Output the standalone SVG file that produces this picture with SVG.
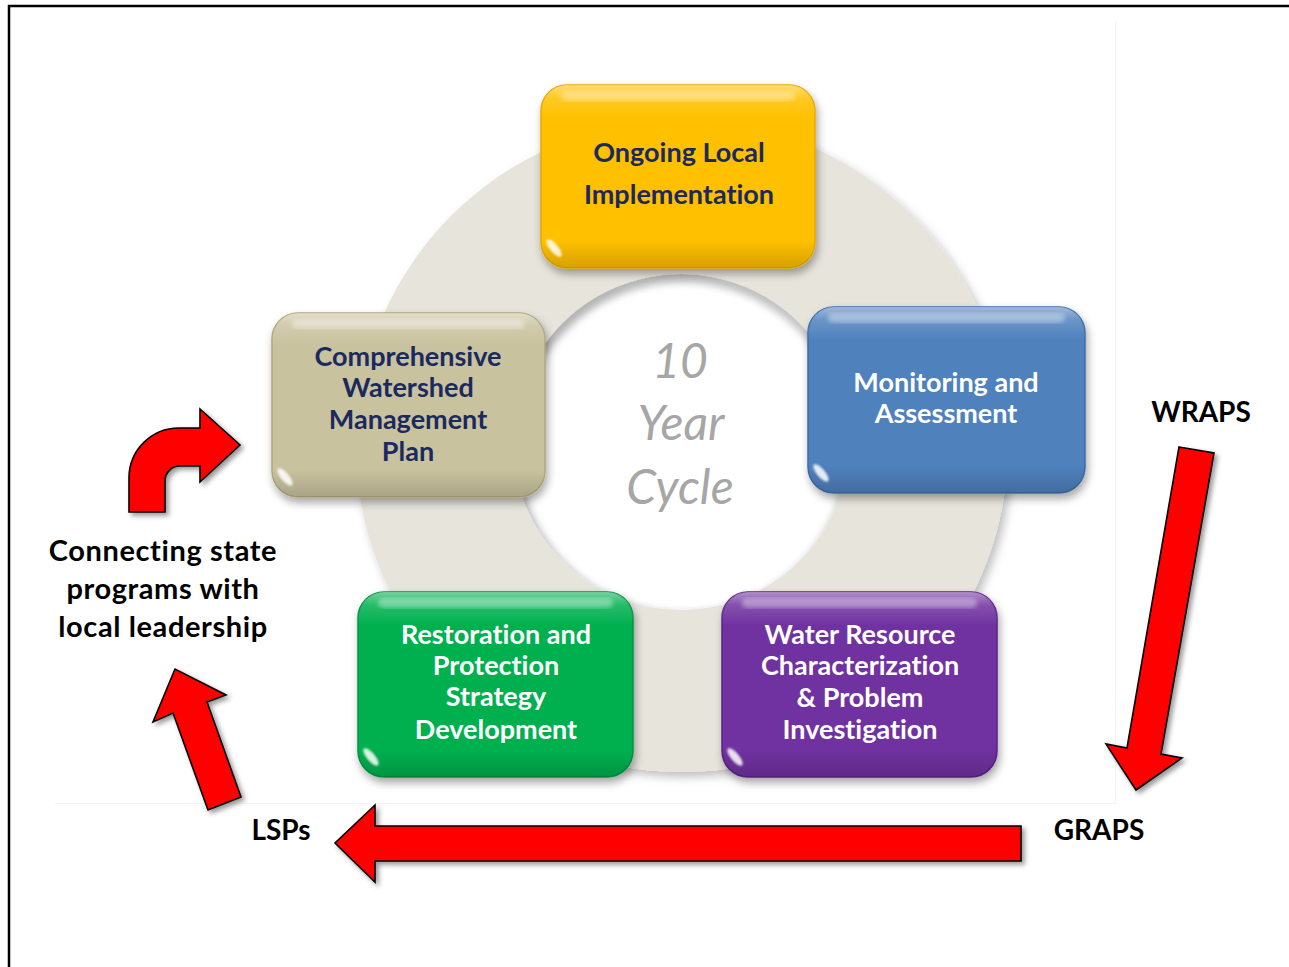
<svg xmlns="http://www.w3.org/2000/svg" width="1289" height="967" viewBox="0 0 1289 967">
  <defs>
    <style>
      text{font-variant-ligatures:none;font-feature-settings:"liga" 0,"clig" 0}
      .box-text{font-family:Lato,'Liberation Sans',sans-serif;font-weight:700;font-size:27px;text-anchor:middle}
      .navy{fill:#1B2A5E}
      .light{fill:#ffffff}
      .label{font-family:Lato,'Liberation Sans',sans-serif;font-weight:700;font-size:28px;fill:#000;text-anchor:middle}
      .label-wide{font-size:29px;letter-spacing:.6px}
      .cycle{font-family:Lato,'Liberation Sans',sans-serif;font-style:italic;font-size:48px;fill:#A6A6A6;text-anchor:middle}
      .arrow{fill:#FF0000;stroke:#000;stroke-width:1.6;stroke-linejoin:miter;filter:url(#arrowShadow)}
      .gloss{fill:url(#gloss)}
      .top-shine{fill:#fff;opacity:.35;filter:url(#soft2)}
      .corner-shine{fill:#fff;opacity:.85;filter:url(#soft1)}
    </style>
    <linearGradient id="gloss" x1="0" y1="0" x2="0" y2="1">
      <stop offset="0" stop-color="#fff" stop-opacity=".45"/>
      <stop offset=".07" stop-color="#fff" stop-opacity=".15"/>
      <stop offset=".18" stop-color="#fff" stop-opacity="0"/>
      <stop offset=".85" stop-color="#000" stop-opacity="0"/>
      <stop offset="1" stop-color="#000" stop-opacity=".16"/>
    </linearGradient>
    <filter id="boxShadow" x="-10%" y="-10%" width="125%" height="130%">
      <feDropShadow dx="2" dy="5" stdDeviation="4" flood-color="#000" flood-opacity=".35"/>
    </filter>
    <filter id="arrowShadow" x="-20%" y="-20%" width="150%" height="150%">
      <feDropShadow dx="3" dy="3" stdDeviation="2.5" flood-color="#000" flood-opacity=".4"/>
    </filter>
    <filter id="ringShadow" x="-10%" y="-10%" width="125%" height="125%">
      <feDropShadow dx="4" dy="5" stdDeviation="5" flood-color="#000" flood-opacity=".25"/>
    </filter>
    <filter id="soft1"><feGaussianBlur stdDeviation="1"/></filter>
    <filter id="soft2"><feGaussianBlur stdDeviation="2"/></filter>
    <filter id="soft4"><feGaussianBlur stdDeviation="4"/></filter>
    <clipPath id="hole"><circle cx="681" cy="442" r="168"/></clipPath>
  </defs>

  <!-- page -->
  <rect width="1289" height="967" fill="#fff"/>
  <path d="M9 967 V6 H1289" fill="none" stroke="#000" stroke-width="2.5"/>
  <!-- edge of the embedded figure area -->
  <path d="M55 803.5 H1115.5 V20" fill="none" stroke="#f4f4f4" stroke-width="1"/>

  <!-- cycle ring -->
  <g id="cycle-ring">
    <path d="M682 120 A326 326 0 1 1 681.9 120 Z M681 274 A168 168 0 1 0 681.1 274 Z" fill="#E6E4DB" fill-rule="evenodd" filter="url(#ringShadow)"/>
    <g clip-path="url(#hole)">
      <circle cx="681" cy="448" r="170" fill="none" stroke="#8a8a8a" stroke-width="6" opacity=".55" filter="url(#soft4)"/>
    </g>
    <text class="cycle" x="680" y="378">10</text>
    <text class="cycle" x="681" y="440">Year</text>
    <text class="cycle" x="680" y="504">Cycle</text>
  </g>

  <!-- nodes -->
  <g id="node-implementation">
    <rect x="541" y="85" width="274" height="183" rx="26" fill="#FFC000" stroke="#E3AA00" stroke-width="1.5" filter="url(#boxShadow)"/>
    <rect class="gloss" x="541" y="85" width="274" height="183" rx="26"/>
    <rect class="top-shine" x="561" y="91" width="234" height="10" rx="5"/>
    <ellipse class="corner-shine" cx="554" cy="248" rx="4" ry="11" transform="rotate(-40 554 248)"/>
    <text class="box-text navy" x="679" y="162">Ongoing Local</text>
    <text class="box-text navy" x="679" y="204">Implementation</text>
  </g>

  <g id="node-plan">
    <rect x="272" y="313" width="273" height="184" rx="26" fill="#C9C29F" stroke="#AFA77F" stroke-width="1.5" filter="url(#boxShadow)"/>
    <rect class="gloss" x="272" y="313" width="273" height="184" rx="26"/>
    <rect class="top-shine" x="292" y="319" width="233" height="10" rx="5"/>
    <ellipse class="corner-shine" cx="285" cy="477" rx="4" ry="11" transform="rotate(-40 285 477)"/>
    <text class="box-text navy" x="408" y="366">Comprehensive</text>
    <text class="box-text navy" x="408" y="397">Watershed</text>
    <text class="box-text navy" x="408" y="429">Management</text>
    <text class="box-text navy" x="408" y="461">Plan</text>
  </g>

  <g id="node-monitoring">
    <rect x="808" y="307" width="277" height="186" rx="26" fill="#4F81BD" stroke="#3C6CA6" stroke-width="1.5" filter="url(#boxShadow)"/>
    <rect class="gloss" x="808" y="307" width="277" height="186" rx="26"/>
    <rect class="top-shine" x="828" y="313" width="237" height="10" rx="5"/>
    <ellipse class="corner-shine" cx="821" cy="473" rx="4" ry="11" transform="rotate(-40 821 473)"/>
    <text class="box-text light" x="946" y="392">Monitoring and</text>
    <text class="box-text light" x="946" y="423">Assessment</text>
  </g>

  <g id="node-strategy">
    <rect x="358" y="592" width="275" height="185" rx="26" fill="#00B050" stroke="#009442" stroke-width="1.5" filter="url(#boxShadow)"/>
    <rect class="gloss" x="358" y="592" width="275" height="185" rx="26"/>
    <rect class="top-shine" x="378" y="598" width="235" height="10" rx="5"/>
    <ellipse class="corner-shine" cx="371" cy="757" rx="4" ry="11" transform="rotate(-40 371 757)"/>
    <text class="box-text light" x="496" y="644">Restoration and</text>
    <text class="box-text light" x="496" y="675">Protection</text>
    <text class="box-text light" x="496" y="706">Strategy</text>
    <text class="box-text light" x="496" y="739">Development</text>
  </g>

  <g id="node-characterization">
    <rect x="722" y="592" width="275" height="185" rx="26" fill="#7030A0" stroke="#5B2385" stroke-width="1.5" filter="url(#boxShadow)"/>
    <rect class="gloss" x="722" y="592" width="275" height="185" rx="26"/>
    <rect class="top-shine" x="742" y="598" width="235" height="10" rx="5"/>
    <ellipse class="corner-shine" cx="735" cy="757" rx="4" ry="11" transform="rotate(-40 735 757)"/>
    <text class="box-text light" x="860" y="644">Water Resource</text>
    <text class="box-text light" x="860" y="675">Characterization</text>
    <text class="box-text light" x="860" y="707">&amp; Problem</text>
    <text class="box-text light" x="860" y="739">Investigation</text>
  </g>

  <!-- program labels -->
  <g id="node-wraps"><text class="label" x="1201" y="422">WRAPS</text></g>
  <g id="node-graps"><text class="label" x="1099" y="840">GRAPS</text></g>
  <g id="node-lsps"><text class="label" x="281" y="840">LSPs</text></g>
  <g id="node-connecting">
    <text class="label label-wide" x="163" y="561">Connecting state</text>
    <text class="label label-wide" x="163" y="599">programs with</text>
    <text class="label label-wide" x="163" y="637">local leadership</text>
  </g>

  <!-- connectors -->
  <g id="connectors">
    <polygon class="arrow" points="1179,447 1214,453 1161,754 1182,758 1136,790 1106,744 1127,748"/>
    <polygon class="arrow" points="1021,826 1021,861 375,861 375,882 335,843 375,805 375,826"/>
    <polygon class="arrow" points="241,797 208,810 173,713 153,722 175,669 226,695 207,702"/>
    <path class="arrow" d="M129 512 V478 A50 50 0 0 1 179 428 H200 V409 L240 445 L200 482 V466 H180 A15 15 0 0 0 165 481 V512 Z"/>
  </g>
</svg>
